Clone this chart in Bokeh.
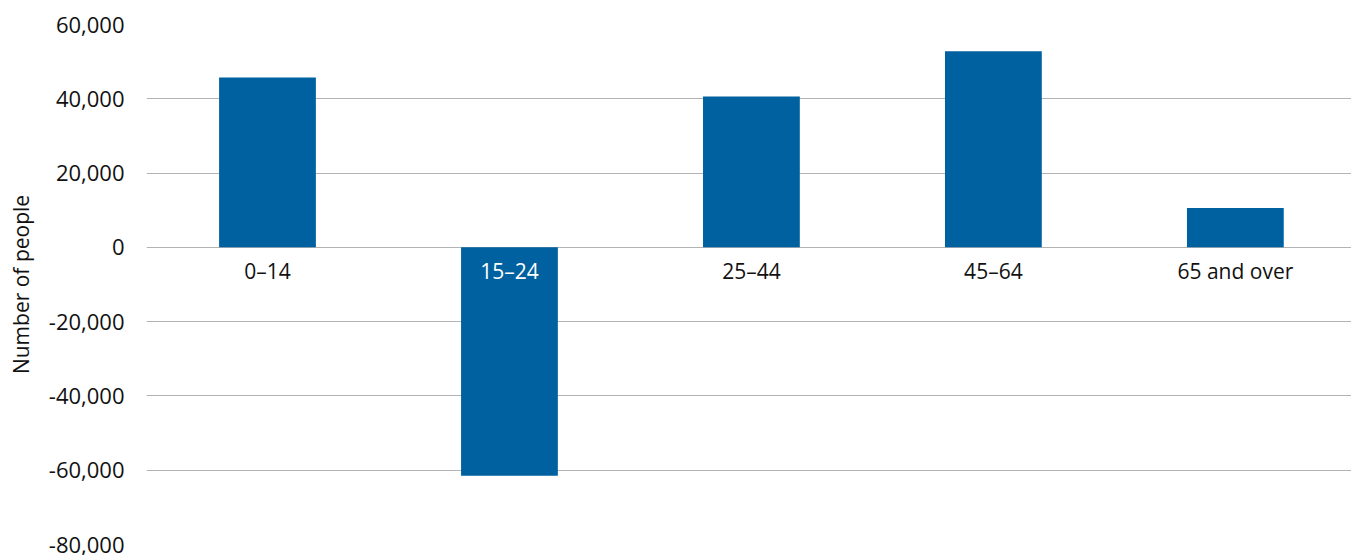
import numpy as np
from bokeh.plotting import figure
from bokeh.models import ColumnDataSource, NumeralTickFormatter, FixedTicker
from bokeh.core.properties import value
from bokeh.embed import file_html
from bokeh.resources import INLINE

# Change in population by age group
categories = ["0\u201314", "15\u201324", "25\u201344", "45\u201364", "65 and over"]
change = [45700, -61500, 40600, 52800, 10600]
y_ticks = [-80000, -60000, -40000, -20000, 0, 20000, 40000, 60000]

FONT = "Open Sans"
BAR_COLOR = "#0061A0"

x = np.arange(len(categories))
label_colors = ["white" if v < 0 else "#111111" for v in change]

src = ColumnDataSource(dict(x=x, top=change, cat=categories, lc=label_colors))

p = figure(
    width=1351, height=555,
    x_range=(-0.5, 4.48), y_range=(-80000, 60000),
    output_backend="svg", toolbar_location=None,
    min_border_left=146, min_border_right=0,
    min_border_top=24, min_border_bottom=11,
)

p.vbar(x="x", top="top", bottom=0, width=0.4, source=src,
       fill_color=BAR_COLOR, line_color=None)

# category names sit just under the zero line
p.text(x="x", y=0, text="cat", source=src, text_color="lc",
       text_align="center", text_baseline="top", y_offset=10,
       text_font=value(FONT), text_font_size="21px")

p.xaxis.visible = False
p.xgrid.visible = False
p.outline_line_color = None

p.yaxis.ticker = FixedTicker(ticks=y_ticks)
p.yaxis.formatter = NumeralTickFormatter(format="0,0")
p.yaxis.axis_line_color = None
p.yaxis.major_tick_line_color = None
p.yaxis.minor_tick_line_color = None
p.yaxis.major_tick_out = 0
p.yaxis.major_label_standoff = 22
p.yaxis.major_label_text_font = FONT
p.yaxis.major_label_text_font_size = "22px"
p.yaxis.major_label_text_color = "#111111"
p.yaxis.axis_label = "Number of people"
p.yaxis.axis_label_text_font = FONT
p.yaxis.axis_label_text_font_size = "21px"
p.yaxis.axis_label_text_font_style = "normal"
p.yaxis.axis_label_text_color = "#111111"
p.yaxis.axis_label_standoff = 11

p.ygrid.ticker = FixedTicker(ticks=y_ticks)
p.ygrid.grid_line_color = "#b3b3b3"
p.ygrid.grid_line_width = 1

open("out.html", "w").write(file_html(p, INLINE))
